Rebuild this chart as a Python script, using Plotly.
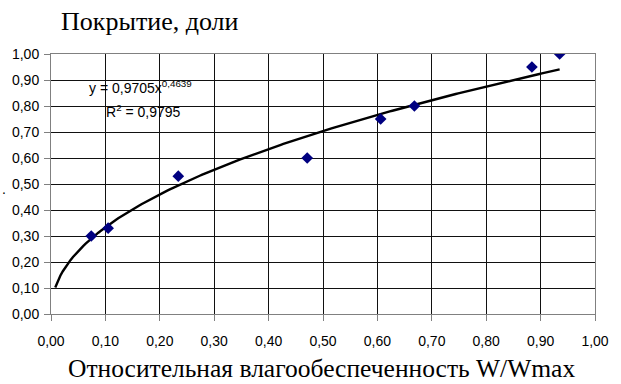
import numpy as np
import plotly.graph_objects as go

# Measured points: relative moisture supply W/Wmax vs. cover fraction
moisture = [0.074, 0.105, 0.234, 0.471, 0.606, 0.668, 0.884, 0.935]
cover = [0.30, 0.33, 0.53, 0.60, 0.75, 0.80, 0.95, 1.00]

# Power trendline y = a * x^b
coef_a = 0.9705
coef_b = 0.4639
r_squared = 0.9795
trend_x_start = 0.0078

tick_vals = [i / 10 for i in range(11)]
tick_text = [f"{v:.2f}".replace(".", ",") for v in tick_vals]

trend_x = np.linspace(trend_x_start, max(moisture), 200)
trend_y = coef_a * trend_x ** coef_b

sans = "Liberation Sans, Arial"
serif = "Liberation Serif, Times New Roman"

fig = go.Figure()
fig.add_trace(go.Scatter(
    x=trend_x, y=trend_y, mode="lines",
    line=dict(color="black", width=2.4), hoverinfo="skip",
))
fig.add_trace(go.Scatter(
    x=moisture, y=cover, mode="markers",
    marker=dict(symbol="diamond", size=9, color="#000080"),
))

axis_common = dict(
    range=[0, 1], tickvals=tick_vals, ticktext=tick_text,
    showgrid=True, gridcolor="#111111", gridwidth=1,
    showline=True, linecolor="#808080", linewidth=1, mirror=True,
    ticks="outside", ticklen=6, tickcolor="#808080",
    tickfont=dict(family=sans, size=14, color="black"),
    zeroline=False, fixedrange=True,
)

fig.update_xaxes(**axis_common, ticklabelstandoff=8)
fig.update_yaxes(**axis_common, ticklabelstandoff=2)

eq_text = f"y = {coef_a:.4f}x<sup>{coef_b:.4f}</sup>".replace(".", ",")
r2_text = f"R<sup>2</sup> = {r_squared:.4f}".replace(".", ",")

fig.update_layout(
    width=621, height=384,
    margin=dict(l=51, r=17, t=54, b=70),
    plot_bgcolor="white", paper_bgcolor="white",
    showlegend=False,
    annotations=[
        dict(text=eq_text, xref="x", yref="y", x=0.067, y=0.875,
             xanchor="left", yanchor="middle", showarrow=False,
             font=dict(family=sans, size=14, color="black")),
        dict(text=r2_text, xref="x", yref="y", x=0.098, y=0.78,
             xanchor="left", yanchor="middle", showarrow=False,
             font=dict(family=sans, size=14, color="black")),
        dict(text="Относительная влагообеспеченность W/Wmax",
             xref="paper", yref="paper", x=0.497, y=-0.21,
             xanchor="center", yanchor="middle", showarrow=False,
             font=dict(family=serif, size=25.5, color="black")),
        dict(text="Покрытие, доли", xref="paper", yref="paper",
             x=0.014, y=1.125, xanchor="left", yanchor="middle",
             showarrow=False, font=dict(family=serif, size=26, color="black")),
        dict(text=".", xref="paper", yref="paper", x=-0.086, y=0.48,
             xanchor="center", yanchor="middle", showarrow=False,
             font=dict(family=sans, size=14, color="black")),
    ],
)

fig.write_html("out.html")
